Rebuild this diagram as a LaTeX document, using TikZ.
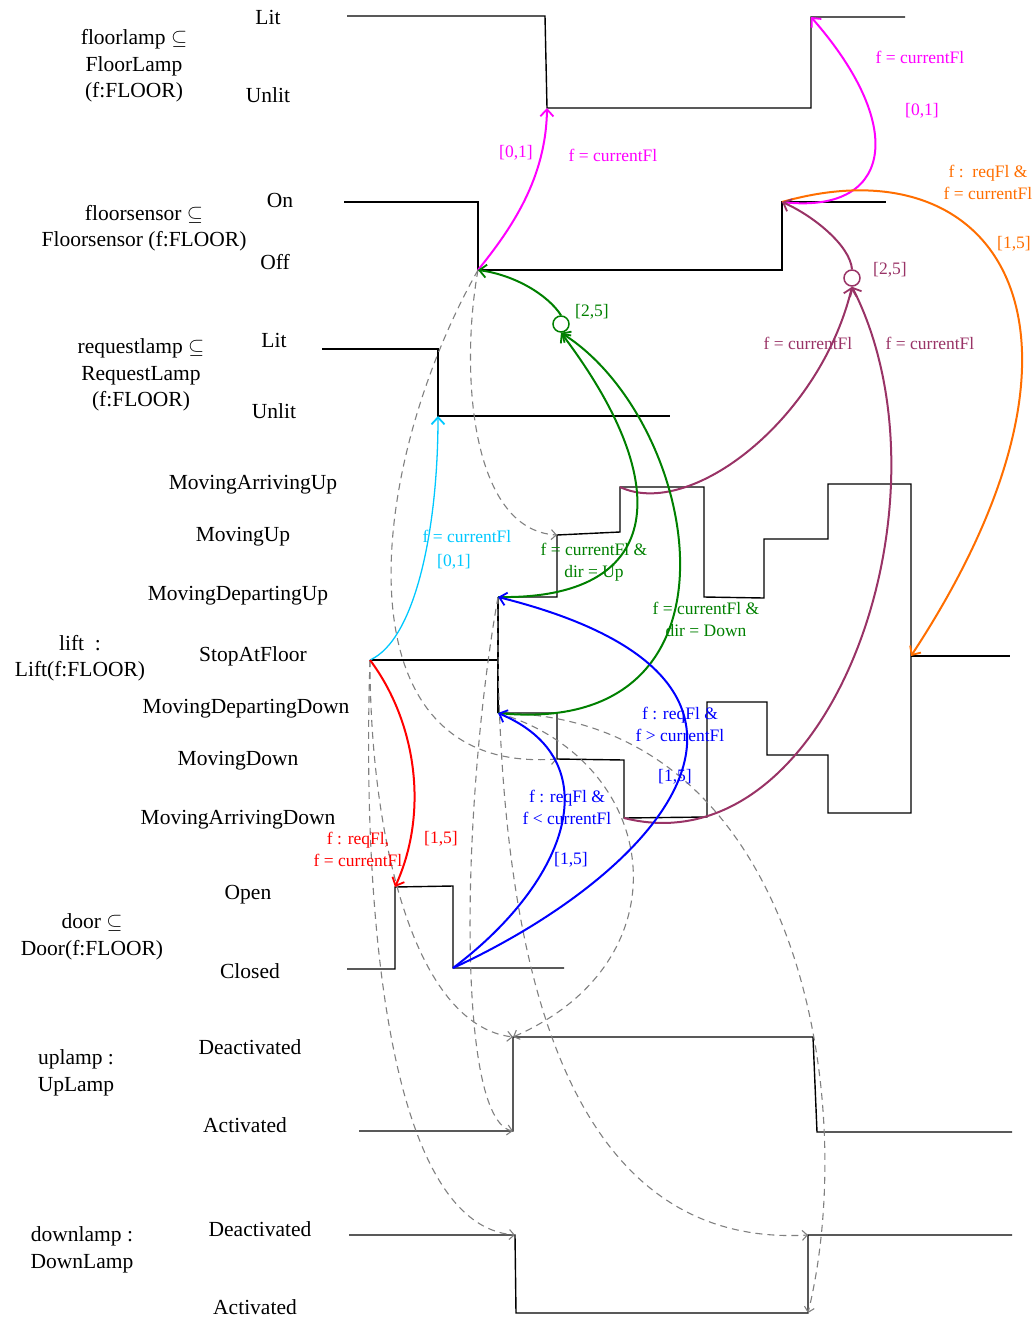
\documentclass[tikz,border=0pt]{standalone}
\usepackage{fontspec}
\setmainfont{Liberation Serif}
\usetikzlibrary{arrows.meta}

\definecolor{cmag}{RGB}{255,0,255}
\definecolor{corange}{RGB}{255,110,0}
\definecolor{cpurple}{RGB}{153,51,102}
\definecolor{cgreen}{RGB}{0,128,0}
\definecolor{cblue}{RGB}{0,0,255}
\definecolor{ccyan}{RGB}{0,200,255}
\definecolor{cred}{RGB}{255,0,0}
\definecolor{cdash}{RGB}{128,128,128}

\begin{document}
\begin{tikzpicture}[x=1pt,y=-1pt,
  wave/.style={line width=1.4pt, black, line join=miter},
  trans/.style={line width=2pt, -{Straight Barb[length=7pt,width=13pt,line width=1.8pt]}},
  dep/.style={cdash, line width=1.1pt, dash pattern=on 7pt off 5pt,
              -{Straight Barb[length=5pt,width=10pt,line width=1.1pt]}},
  lbl/.style={font=\fontsize{21.5}{26.5}\selectfont, align=center, inner sep=0pt},
  ann/.style={font=\fontsize{17.5}{22}\selectfont, align=center, inner sep=0pt},
  gate/.style={circle, draw, fill=white, line width=1.5pt, minimum size=16pt, inner sep=0pt}]
\useasboundingbox (0,0) rectangle (1035,1318);

% ---------- waveform corners ----------
% floor lamp
\coordinate (fl0) at (347,16);  \coordinate (fl1) at (545,16);
\coordinate (fl2) at (547,108); \coordinate (fl3) at (811,108);
\coordinate (fl4) at (811,17);  \coordinate (fl5) at (905,17);
% floor sensor
\coordinate (fs0) at (344,202); \coordinate (fs1) at (478,202);
\coordinate (fs2) at (478,270); \coordinate (fs3) at (782,270);
\coordinate (fs4) at (782,202); \coordinate (fs5) at (886,202);
% request lamp
\coordinate (rl0) at (322,349); \coordinate (rl1) at (438,349);
\coordinate (rl2) at (438,416); \coordinate (rl3) at (670,416);
% lift
\coordinate (lf0) at (370,660); \coordinate (lf1) at (498,660);
\coordinate (la) at (498,597);  \coordinate (lb) at (557,597);
\coordinate (lc) at (557,535);  \coordinate (ld) at (620,532);
\coordinate (le) at (620,487);  \coordinate (lff) at (704,487);
\coordinate (lg) at (704,597);  \coordinate (lh) at (764,598);
\coordinate (li) at (764,539);  \coordinate (lj) at (828,539);
\coordinate (lk) at (828,484);  \coordinate (ll) at (911,484);
\coordinate (lm) at (911,813);  \coordinate (ln) at (828,813);
\coordinate (lo) at (828,755);  \coordinate (lp) at (767,755);
\coordinate (lq) at (767,702);  \coordinate (lr) at (707,702);
\coordinate (ls) at (707,817);  \coordinate (lt) at (624,818);
\coordinate (lu) at (624,760);  \coordinate (lv) at (557,759);
\coordinate (lw) at (557,713);  \coordinate (lx) at (498,713);
\coordinate (lz) at (911,656);  \coordinate (lend) at (1010,656);
% door
\coordinate (dr0) at (347,969); \coordinate (dr1) at (395,969);
\coordinate (dr2) at (395,887); \coordinate (dr3) at (453,886);
\coordinate (dr4) at (453,968); \coordinate (dr5) at (564,968);
% up lamp
\coordinate (ul0) at (359,1131); \coordinate (ul1) at (513,1131);
\coordinate (ul2) at (513,1037); \coordinate (ul3) at (813,1037);
\coordinate (ul4) at (817,1132); \coordinate (ul5) at (1012,1132);
% down lamp
\coordinate (dl0) at (349,1235); \coordinate (dl1) at (515,1235);
\coordinate (dl2) at (516,1313); \coordinate (dl3) at (808,1313);
\coordinate (dl4) at (808,1235); \coordinate (dl5) at (1012,1235);

% ---------- waveforms ----------
\draw[wave] (fl0) -- (fl1) -- (fl2) -- (fl3) -- (fl4) -- (fl5);
\draw[wave] (fs0) -- (fs1) -- (fs2) -- (fs3) -- (fs4) -- (fs5);
\draw[wave] (rl0) -- (rl1) -- (rl2) -- (rl3);
\draw[wave] (lf0) -- (lf1);
\draw[wave] (la) -- (lx);
\draw[wave] (la) -- (lb) -- (lc) -- (ld) -- (le) -- (lff) -- (lg) -- (lh) -- (li)
  -- (lj) -- (lk) -- (ll) -- (lm) -- (ln) -- (lo) -- (lp) -- (lq) -- (lr) -- (ls)
  -- (lt) -- (lu) -- (lv) -- (lw) -- (lx);
\draw[wave] (lz) -- (lend);
\draw[wave] (dr0) -- (dr1) -- (dr2) -- (dr3) -- (dr4) -- (dr5);
\draw[wave] (ul0) -- (ul1) -- (ul2) -- (ul3) -- (ul4) -- (ul5);
\draw[wave] (dl0) -- (dl1) -- (dl2) -- (dl3) -- (dl4) -- (dl5);

% ---------- labels ----------
\node[lbl] (flName) at (134,66) {floorlamp $\subseteq$\\FloorLamp\\(f:FLOOR)};
\node[lbl] (flLit) at (268,17) {Lit};
\node[lbl] (flUnlit) at (268,95) {Unlit};
\node[lbl] (fsName) at (144,228) {floorsensor $\subseteq$\\Floorsensor (f:FLOOR)};
\node[lbl] (fsOn) at (280,200) {On};
\node[lbl] (fsOff) at (275,262) {Off};
\node[lbl] (rlName) at (141,375) {requestlamp $\subseteq$\\RequestLamp\\(f:FLOOR)};
\node[lbl] (rlLit) at (274,340) {Lit};
\node[lbl] (rlUnlit) at (274,411) {Unlit};
\node[lbl] (liftName) at (80,658) {lift\ \ :\\Lift(f:FLOOR)};
\node[lbl] (sMAU) at (253,485) {MovingArrivingUp};
\node[lbl] (sMU) at (243,537) {MovingUp};
\node[lbl] (sMDU) at (238,596) {MovingDepartingUp};
\node[lbl] (sSAF) at (253,656) {StopAtFloor};
\node[lbl] (sMDD) at (246,709) {MovingDepartingDown};
\node[lbl] (sMD) at (238,761) {MovingDown};
\node[lbl] (sMAD) at (238,820) {MovingArrivingDown};
\node[lbl] (doorName) at (92,937) {door $\subseteq$\\Door(f:FLOOR)};
\node[lbl] (dOpen) at (248,895) {Open};
\node[lbl] (dClosed) at (250,971) {Closed};
\node[lbl] (ulName) at (76,1073) {uplamp :\\UpLamp};
\node[lbl] (ulDe) at (250,1047) {Deactivated};
\node[lbl] (ulAc) at (245,1125) {Activated};
\node[lbl] (dlName) at (82,1250) {downlamp :\\DownLamp};
\node[lbl] (dlDe) at (260,1229) {Deactivated};
\node[lbl] (dlAc) at (255,1307) {Activated};

% ---------- guard circles ----------
\node[gate, draw=cgreen] (G) at (561,324) {};
\node[gate, draw=cpurple] (P) at (852,278) {};

% ---------- dependencies (dashed) ----------
\draw[dep] (fs2) .. controls (365,470) and (335,775) .. (lv);
\draw[dep] (fs2) .. controls (460,370) and (470,530) .. (lc);
\draw[dep] (lf0) .. controls (362,900) and (385,1225) .. (dl1);
\draw[dep] (lf0) .. controls (370,840) and (415,1025) .. (ul2);
\draw[dep] (la) .. controls (462,800) and (455,1120) .. (ul1);
\draw[dep] (la) .. controls (495,900) and (540,1250) .. (dl4);
\draw[dep] (lx) .. controls (800,715) and (860,1100) .. (dl3);
\draw[dep] (lx) .. controls (660,760) and (690,960) .. (ul2);

% ---------- transitions ----------
\draw[trans, cmag] (fs2) .. controls (512,228) and (546,178) .. (fl2);
\draw[trans, cmag] (fs4) .. controls (890,215) and (910,130) .. (fl4);
\draw[trans, corange] (fs4) .. controls (1000,140) and (1125,330) .. (lz);
\draw[trans, cpurple] (P.north) .. controls (850,245) and (812,215) .. (fs4);
\draw[trans, cpurple] (le) .. controls (690,520) and (820,420) .. (P.south);
\draw[trans, cpurple] (lt) .. controls (830,870) and (960,500) .. (P.south);
\draw[trans, cgreen] (G.north) .. controls (548,295) and (515,275) .. (fs2);
\draw[trans, cgreen] (la) .. controls (660,600) and (680,490) .. (G.south);
\draw[trans, cgreen] (lx) .. controls (760,740) and (700,420) .. (G.south);
\draw[trans, cblue] (dr4) .. controls (665,870) and (830,680) .. (la);
\draw[trans, cblue] (dr4) .. controls (570,880) and (610,760) .. (lx);
\draw[trans, ccyan, line width=1.3pt] (lf0) .. controls (415,640) and (438,530) .. (rl2);
\draw[trans, cred] (lf0) .. controls (415,720) and (430,810) .. (dr2);

% ---------- transition annotations ----------
\node[ann, text=cmag] (m1a) at (516,153) {[0,1]};
\node[ann, text=cmag] (m1b) at (613,155) {f = currentFl};
\node[ann, text=cmag] (m2a) at (920,57) {f = currentFl};
\node[ann, text=cmag] (m2b) at (922,111) {[0,1]};
\node[ann, text=corange] (o1) at (988,182) {f :\ \ reqFl \&\\f = currentFl};
\node[ann, text=corange] (o2) at (1014,244) {[1,5]};
\node[ann, text=cpurple] (p1) at (890,270) {[2,5]};
\node[ann, text=cpurple] (p2) at (808,343) {f = currentFl};
\node[ann, text=cpurple] (p3) at (930,343) {f = currentFl};
\node[ann, text=cgreen] (g1) at (592,312) {[2,5]};
\node[ann, text=cgreen] (g2) at (594,562) {f = currentFl \&\\dir = Up};
\node[ann, text=cgreen] (g3) at (706,619) {f = currentFl \&\\dir = Down};
\node[ann, text=ccyan] (c1) at (467,536) {f = currentFl};
\node[ann, text=ccyan] (c2) at (454,562) {[0,1]};
\node[ann, text=cblue] (b1) at (680,724) {f : reqFl \&\\f > currentFl};
\node[ann, text=cblue] (b2) at (675,777) {[1,5]};
\node[ann, text=cblue] (b3) at (567,807) {f : reqFl \&\\f < currentFl};
\node[ann, text=cblue] (b4) at (571,860) {[1,5]};
\node[ann, text=cred] (r1) at (358,849) {f : reqFl,\\f = currentFl};
\node[ann, text=cred] (r2) at (441,839) {[1,5]};
\end{tikzpicture}
\end{document}
